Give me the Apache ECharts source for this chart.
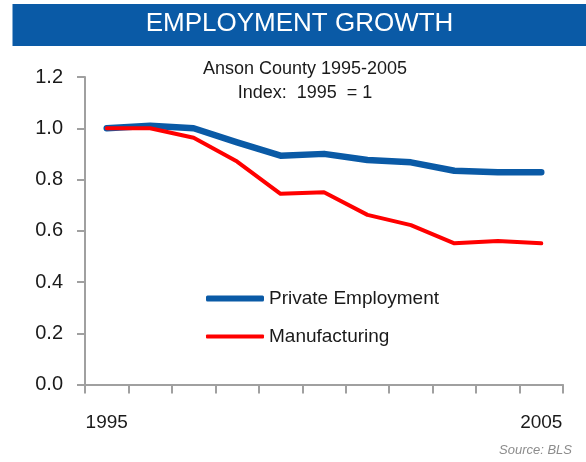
<!DOCTYPE html>
<html>
<head>
<meta charset="utf-8">
<script src="https://cdn.jsdelivr.net/npm/echarts@6/dist/echarts.min.js"></script>
<style>
html,body{margin:0;padding:0;background:#fff;}
#chart{width:586px;height:462px;}
</style>
</head>
<body>
<div id="chart"></div>
<script>
var years = ['1995','1996','1997','1998','1999','2000','2001','2002','2003','2004','2005'];
var privateEmployment = [1.00, 1.01, 1.00, 0.945, 0.893, 0.90, 0.876, 0.867, 0.834, 0.828, 0.828];
var manufacturing = [1.00, 1.00, 0.963, 0.87, 0.744, 0.75, 0.662, 0.622, 0.551, 0.56, 0.551];
var yTicks = [0, 0.2, 0.4, 0.6, 0.8, 1.0, 1.2];
var shownYears = ['1995', '2005'];

var NARROW = "'Liberation Sans Narrow', 'Arial Narrow', 'Liberation Sans', Arial, sans-serif";
var chart = echarts.init(document.getElementById('chart'));
chart.setOption({
  backgroundColor: '#ffffff',
  animation: false,
  graphic: [
    { type: 'rect', shape: { x: 12.5, y: 4, width: 574, height: 42 }, style: { fill: '#0A5AA6' }, silent: true },
    { type: 'text', x: 299.5, y: 24, style: { text: 'EMPLOYMENT GROWTH', fill: '#ffffff', font: "26px 'Liberation Sans', Arial, sans-serif", textAlign: 'center', textVerticalAlign: 'middle' } },
    { type: 'text', right: 14, top: 444, style: { text: 'Source: BLS', fill: '#8c8c8c', font: "italic 13px " + NARROW } }
  ],
  title: {
    text: 'Anson County 1995-2005\nIndex:  1995  = 1',
    left: 300,
    top: 52,
    textAlign: 'center',
    textStyle: { fontFamily: NARROW, fontSize: 18, fontWeight: 'normal', color: '#1a1a1a', lineHeight: 24 }
  },
  legend: [
    {
      data: ['Private Employment'], left: 206, top: 289, padding: 0, icon: 'roundRect',
      itemWidth: 58, itemHeight: 6,
      textStyle: { fontFamily: NARROW, fontSize: 19, color: '#1a1a1a' }
    },
    {
      data: ['Manufacturing'], left: 206, top: 327, padding: 0, icon: 'roundRect',
      itemWidth: 58, itemHeight: 4,
      textStyle: { fontFamily: NARROW, fontSize: 19, color: '#1a1a1a' }
    }
  ],
  grid: { left: 85, right: 23, top: 77, bottom: 77.5, containLabel: false },
  xAxis: {
    type: 'category',
    data: years,
    boundaryGap: true,
    axisLine: { lineStyle: { color: '#a0a0a0', width: 2 } },
    axisTick: { show: true, length: 9, alignWithLabel: false, interval: 0, lineStyle: { color: '#a0a0a0', width: 2 } },
    axisLabel: {
      interval: 0,
      margin: 29,
      formatter: function (v) { return shownYears.indexOf(v) >= 0 ? v : ''; },
      fontFamily: NARROW, fontSize: 19, color: '#1a1a1a'
    },
    splitLine: { show: false }
  },
  yAxis: {
    type: 'value',
    min: yTicks[0],
    max: yTicks[yTicks.length - 1],
    interval: 0.2,
    axisLine: { show: true, lineStyle: { color: '#a0a0a0', width: 2 } },
    axisTick: { show: true, length: 8, lineStyle: { color: '#a0a0a0', width: 2 } },
    axisLabel: {
      margin: 22,
      formatter: function (v) { return v.toFixed(1); },
      fontFamily: NARROW, fontSize: 20, color: '#1a1a1a'
    },
    splitLine: { show: false }
  },
  series: [
    {
      name: 'Private Employment', type: 'line', data: privateEmployment,
      symbol: 'none', color: '#0A5AA6',
      lineStyle: { width: 6.5, color: '#0A5AA6', cap: 'round', join: 'round' }
    },
    {
      name: 'Manufacturing', type: 'line', data: manufacturing,
      symbol: 'none', color: '#FF0000',
      lineStyle: { width: 4, color: '#FF0000', cap: 'round', join: 'round' }
    }
  ]
});
</script>
</body>
</html>
